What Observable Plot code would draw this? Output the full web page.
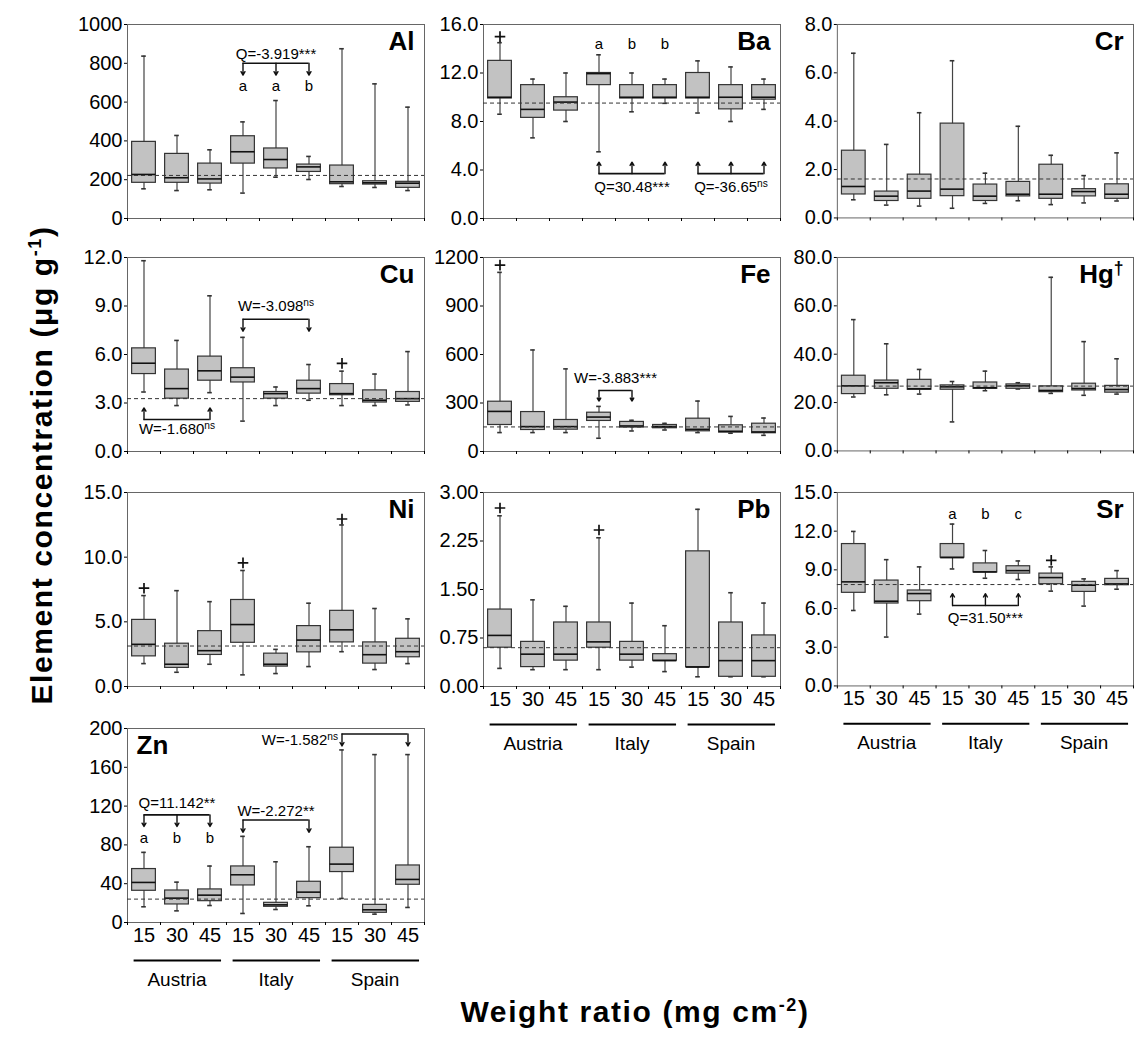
<!DOCTYPE html>
<html>
<head>
<meta charset="utf-8">
<script src="https://cdn.jsdelivr.net/npm/d3@7"></script>
<script src="https://cdn.jsdelivr.net/npm/@observablehq/plot@0.6"></script>
<style>
  body { margin: 0; background: #fff; }
  #fig { position: relative; width: 1135px; height: 1044px; font-family: "Liberation Sans", Arial, sans-serif; color: #000; overflow: hidden; }
  .panel { position: absolute; }
  .ytitle { position: absolute; left: 42px; top: 465px; transform: translate(-50%, -50%) rotate(-90deg); font-weight: bold; font-size: 30px; letter-spacing: 1.6px; white-space: nowrap; }
  .xtitle { position: absolute; left: 635px; top: 1012px; transform: translate(-50%, -50%); font-weight: bold; font-size: 30px; letter-spacing: 1.6px; white-space: nowrap; }
  sup { font-size: 0.6em; }
</style>
</head>
<body>
<div id="fig">
  <div class="ytitle">Element concentration (μg g<sup>-1</sup>)</div>
  <div class="xtitle">Weight ratio (mg cm<sup>-2</sup>)</div>
</div>
<script>
// ---------- data ----------
const countries = ["Austria", "Italy", "Spain"];
const ratios = ["15", "30", "45"];
const categories = countries.flatMap(c => ratios.map(r => c + " " + r));
const elements = ["Al", "Ba", "Cr", "Cu", "Fe", "Hg", "Ni", "Pb", "Sr", "Zn"];

// five-number summaries per category: [whisker low, Q1, median, Q3, whisker high]
const Al = [[153,184,227,395,837],[144,184,210,333,428],[148,180,204,283,354],[131,283,344,424,498],[213,258,304,361,608],[201,240,266,278,320],[165,177,189,273,875],[160,175,184,192,694],[144,158,182,189,574]];
const Ba = [[8.6,9.9,10.0,13.0,14.5],[6.65,8.3,9.0,11.0,11.5],[8.0,8.9,9.6,10.0,12.0],[5.5,11.0,11.95,12.0,13.5],[8.8,9.9,10.0,11.0,12.0],[9.5,9.9,10.0,11.0,11.5],[8.7,9.9,10.0,12.0,13.0],[8.0,9.0,10.0,11.0,12.5],[9.0,9.8,10.0,11.0,11.5]];
const Cr = [[0.75,0.97,1.30,2.78,6.81],[0.53,0.70,0.90,1.09,3.04],[0.49,0.79,1.11,1.79,4.35],[0.40,0.90,1.19,3.90,6.50],[0.60,0.70,0.90,1.38,1.85],[0.71,0.89,0.98,1.49,3.79],[0.55,0.79,0.98,2.20,2.59],[0.62,0.89,1.09,1.19,1.75],[0.70,0.79,0.98,1.39,2.69]];
const Cu = [[3.68,4.79,5.46,6.38,11.8],[2.84,3.27,3.89,5.07,6.87],[3.64,4.38,4.99,5.87,9.63],[1.88,4.27,4.60,5.15,7.06],[2.84,3.27,3.58,3.68,3.99],[3.17,3.58,3.89,4.38,5.38],[2.84,3.48,3.58,4.17,4.97],[2.84,3.03,3.17,3.78,4.79],[2.88,3.07,3.27,3.68,6.18]];
const Fe = [[117,164,248,308,1108],[117,133,154,244,628],[117,135,154,195,511],[82,189,213,240,279],[127,148,158,183,193],[133,144,154,164,174],[117,125,137,203,312],[113,117,125,162,217],[100,113,121,172,207]];
const Hg = [[22.3,23.5,26.9,31.1,54.3],[23.2,25.7,28.2,29.1,44.3],[23.5,25.3,25.7,29.4,33.7],[12.0,25.3,26.5,27.1,28.7],[24.9,25.7,26.1,28.3,33.0],[25.6,25.7,26.9,27.5,28.2],[23.8,24.3,25.0,26.7,71.8],[23.0,25.0,25.8,27.8,45.2],[23.5,24.1,25.4,26.9,38.1]];
const Ni = [[1.77,2.33,3.26,5.15,7.03],[1.10,1.44,1.72,3.31,7.41],[1.72,2.44,2.77,4.28,6.56],[0.90,3.38,4.79,6.69,8.97],[1.00,1.54,1.72,2.54,2.87],[1.54,2.64,3.59,4.67,6.44],[2.69,3.41,4.38,5.85,12.49],[1.31,1.77,2.46,3.41,6.03],[1.77,2.26,2.69,3.69,5.23]];
const Pb = [[0.28,0.60,0.79,1.19,2.64],[0.26,0.30,0.50,0.69,1.34],[0.26,0.40,0.50,0.99,1.24],[0.26,0.60,0.69,0.99,2.30],[0.30,0.40,0.50,0.69,1.29],[0.23,0.40,0.40,0.50,0.94],[0.15,0.30,0.30,2.09,2.74],[0.15,0.15,0.40,0.99,1.45],[0.15,0.15,0.40,0.79,1.29]];
const Sr = [[5.85,7.22,8.07,11.0,11.98],[3.79,6.39,6.57,8.17,9.79],[5.57,6.57,7.16,7.40,9.23],[9.07,9.95,9.95,11.0,12.55],[8.35,8.80,8.84,9.50,10.5],[8.25,8.71,8.94,9.28,9.69],[7.35,7.89,8.40,8.71,9.23],[6.19,7.29,7.81,8.07,8.30],[7.50,7.81,7.91,8.30,8.94]];
const Zn = [[16.2,32.7,41.3,55.1,72.3],[12.0,18.6,25.1,33.0,41.6],[17.5,22.0,28.2,34.1,58.2],[9.3,38.2,49.2,57.8,88.8],[13.4,16.2,18.2,20.3,62.6],[17.2,25.1,31.3,42.0,78.1],[24.8,52.0,60.2,77.1,177.9],[8.6,10.0,13.1,18.2,173.1],[15.5,38.9,44.4,58.8,173.1]];

// dashed reference level per element (same order as elements)
const refLevels = [222, 9.52, 1.61, 3.27, 152, 26.8, 3.13, 0.60, 7.86, 24.1];

// outliers: [element, category, value]
const outliers = [
  ["Ba", "Austria 15", 15.0],
  ["Cu", "Spain 15", 5.45],
  ["Fe", "Austria 15", 1153],
  ["Ni", "Austria 15", 7.6],
  ["Ni", "Italy 15", 9.56],
  ["Ni", "Spain 15", 12.95],
  ["Pb", "Austria 15", 2.76],
  ["Pb", "Italy 15", 2.42],
  ["Sr", "Spain 15", 9.74]
];

// y tick labels
const alTicks = [0, 200, 400, 600, 800, 1000];
const baTicks = [0, 4, 8, 12, 16];
const crTicks = [0, 2, 4, 6, 8];
const cuTicks = [0, 3, 6, 9, 12];
const feTicks = [0, 300, 600, 900, 1200];
const hgTicks = [0, 20, 40, 60, 80];
const niTicks = [0, 5, 10, 15];
const pbTicks = [0, 0.75, 1.5, 2.25, 3];
const srTicks = [0, 3, 6, 9, 12, 15];
const znTicks = [0, 40, 80, 120, 160, 200];

// test annotations (category positions 1..9, levels in data units)
const alNotes = [{text: "Q=-3.919***", at: [4,5,6], bracketY: 800, tipY: 739, textX: 5, textY: 849, letters: ["a","a","b"], letterY: 682}];
const baNotes = [
  {at: [4,5,6], letters: ["a","b","b"], letterY: 14.4},
  {text: "Q=30.48***", at: [4,5,6], bracketY: 3.7, tipY: 4.65, textX: 5, textY: 2.6},
  {text: "Q=-36.65^ns", at: [7,8,9], bracketY: 3.7, tipY: 4.65, textX: 8, textY: 2.6}
];
const cuNotes = [
  {text: "W=-3.098^ns", at: [4,6], bracketY: 8.18, tipY: 7.44, textX: 5, textY: 9.0},
  {text: "W=-1.680^ns", at: [1,3], bracketY: 1.98, tipY: 2.7, textX: 2, textY: 1.37}
];
const feNotes = [{text: "W=-3.883***", at: [4,5], bracketY: 377, tipY: 312, textX: 4.5, textY: 455}];
const srNotes = [
  {at: [4,5,6], letters: ["a","b","c"], letterY: 13.3},
  {text: "Q=31.50***", at: [4,5,6], bracketY: 6.24, tipY: 7.16, textX: 5, textY: 5.28}
];
const znNotes = [
  {text: "Q=11.142**", at: [1,2,3], bracketY: 111, tipY: 99, textX: 2, textY: 122.8, letters: ["a","b","b"], letterY: 87},
  {text: "W=-2.272**", at: [4,6], bracketY: 105.6, tipY: 93, textX: 5, textY: 115},
  {text: "W=-1.582^ns", at: [7,9], bracketY: 194.4, tipY: 182, textX: 7, textY: 187.5, anchor: "end", dx: -4}
];

// ---------- layout ----------
const BOX = 0.36, CAP = 0.07;
const colLeft = [127, 483, 837];
const rowTop = [24, 257, 492, 728];
const FW = 297, FH = 194;
const FONT = "'Liberation Sans', Arial, sans-serif";

const panelDefs = [
  {el: "Al", stats: Al, ticks: alTicks, fmt: "d", col: 0, row: 0, notes: alNotes},
  {el: "Ba", stats: Ba, ticks: baTicks, fmt: ".1f", col: 1, row: 0, notes: baNotes},
  {el: "Cr", stats: Cr, ticks: crTicks, fmt: ".1f", col: 2, row: 0, notes: []},
  {el: "Cu", stats: Cu, ticks: cuTicks, fmt: ".1f", col: 0, row: 1, notes: cuNotes},
  {el: "Fe", stats: Fe, ticks: feTicks, fmt: "d", col: 1, row: 1, notes: feNotes},
  {el: "Hg", label: "Hg^†", stats: Hg, ticks: hgTicks, fmt: ".1f", col: 2, row: 1, notes: []},
  {el: "Ni", stats: Ni, ticks: niTicks, fmt: ".1f", col: 0, row: 2, notes: []},
  {el: "Pb", stats: Pb, ticks: pbTicks, fmt: ".2f", col: 1, row: 2, notes: [], bottom: true},
  {el: "Sr", stats: Sr, ticks: srTicks, fmt: ".1f", col: 2, row: 2, notes: srNotes, bottom: true},
  {el: "Zn", stats: Zn, ticks: znTicks, fmt: "d", col: 0, row: 3, notes: znNotes, bottom: true, labelLeft: true}
];

function superscripts(svg) {
  svg.querySelectorAll("text, tspan").forEach(el => {
    if (el.children.length === 0 && el.textContent.includes("^")) {
      const [a, b] = el.textContent.split("^");
      el.textContent = a;
      const t = document.createElementNS("http://www.w3.org/2000/svg", "tspan");
      t.setAttribute("dy", "-0.5em");
      t.setAttribute("font-size", "0.68em");
      t.textContent = b;
      el.appendChild(t);
    }
  });
}

function noteMarks(n) {
  const m = [];
  if (n.bracketY != null) {
    m.push(Plot.ruleY([n], {x1: d => d3.min(d.at), x2: d => d3.max(d.at), y: "bracketY", stroke: "#111", strokeWidth: 1.6}));
    m.push(Plot.arrow(n.at, {x1: d => d, x2: d => d, y1: () => n.bracketY, y2: () => n.tipY, stroke: "#111", strokeWidth: 1.4, headLength: 5}));
    m.push(Plot.text([n], {x: "textX", y: "textY", text: "text", fontSize: 15, textAnchor: n.anchor || "middle", dx: n.dx || 0}));
  }
  if (n.letters) {
    m.push(Plot.text(n.at, {x: d => d, y: () => n.letterY, text: (d, i) => n.letters[i], fontSize: 15}));
  }
  return m;
}

const fig = document.getElementById("fig");
const centers = categories.map((c, k) => k + 1);
const boundaries = d3.range(0, 10).map(k => k + 0.5);

for (const def of panelDefs) {
  const rows = def.stats.map((s, k) => ({pos: k + 1, cat: categories[k], lo: s[0], q1: s[1], med: s[2], q3: s[3], hi: s[4]}));
  const outs = outliers.filter(o => o[0] === def.el).map(o => ({pos: categories.indexOf(o[1]) + 1, v: o[2]}));
  const ref = refLevels[elements.indexOf(def.el)];
  const mL = 58, mR = 2, mT = 8, mB = def.bottom ? 80 : 6;
  const fmt = d3.format(def.fmt);

  const marks = [
    Plot.frame({stroke: "#666"}),
    Plot.axisY({ticks: def.ticks, tickFormat: fmt, tickSize: 3, tickPadding: 2, fontSize: 20, label: null}),
    Plot.axisX({ticks: boundaries, tickSize: 3, tickFormat: () => "", label: null}),
    Plot.ruleX(rows, {x: "pos", y1: "lo", y2: "hi", stroke: "#444", strokeWidth: 1.2}),
    Plot.ruleY(rows, {x1: d => d.pos - CAP, x2: d => d.pos + CAP, y: "lo", stroke: "#333", strokeWidth: 1.6}),
    Plot.ruleY(rows, {x1: d => d.pos - CAP, x2: d => d.pos + CAP, y: "hi", stroke: "#333", strokeWidth: 1.6}),
    Plot.rect(rows, {x1: d => d.pos - BOX, x2: d => d.pos + BOX, y1: "q1", y2: "q3", fill: "#c2c2c2", stroke: "#333", strokeWidth: 1.2}),
    Plot.ruleY(rows, {x1: d => d.pos - BOX, x2: d => d.pos + BOX, y: "med", stroke: "#111", strokeWidth: 1.6}),
    Plot.ruleY([ref], {stroke: "#333", strokeWidth: 1, strokeDasharray: "4,3"}),
    Plot.dot(outs, {x: "pos", y: "v", symbol: "plus", r: 3.5, stroke: "#111", strokeWidth: 1.7}),
    Plot.text([def.label || def.el], {
      text: d => d,
      frameAnchor: def.labelLeft ? "top-left" : "top-right",
      textAnchor: def.labelLeft ? "start" : "end",
      lineAnchor: "top",
      dx: def.labelLeft ? 9 : -10, dy: 7,
      fontSize: 26, fontWeight: "bold"
    }),
    ...def.notes.flatMap(noteMarks)
  ];

  if (def.bottom) {
    marks.push(
      Plot.axisX({ticks: centers, tickSize: 0, tickPadding: 5, tickFormat: d => ratios[(d - 1) % 3], fontSize: 20, label: null}),
      Plot.ruleY(countries, {x1: (d, i) => 3 * i + 0.7, x2: (d, i) => 3 * i + 3.35, y: () => 0, dy: 38, stroke: "#000", strokeWidth: 2}),
      Plot.text(countries, {x: (d, i) => 3 * i + 2, y: () => 0, text: d => d, dy: 57, fontSize: 19})
    );
  }

  const svg = Plot.plot({
    width: mL + FW + mR,
    height: mT + FH + mB,
    marginLeft: mL, marginRight: mR, marginTop: mT, marginBottom: mB,
    x: {domain: [0.5, 9.5], label: null},
    y: {domain: [0, def.ticks[def.ticks.length - 1]], label: null},
    style: {fontFamily: FONT, fontSize: "20px", color: "#000", background: "transparent", overflow: "visible"},
    marks
  });
  superscripts(svg);
  const div = document.createElement("div");
  div.className = "panel";
  div.style.left = (colLeft[def.col] - mL) + "px";
  div.style.top = (rowTop[def.row] - mT) + "px";
  div.appendChild(svg);
  fig.appendChild(div);
}
</script>
</body>
</html>
